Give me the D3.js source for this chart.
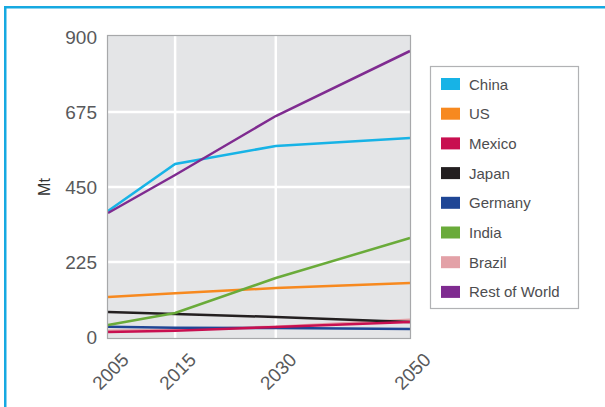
<!DOCTYPE html>
<html>
<head>
  <meta charset="UTF-8">
  <title>Mt by country</title>
  <script src="https://d3js.org/d3.v7.min.js"></script>
  <style>
    body {
      margin: 0;
      padding: 0;
      background: #fff;
      font-family: "Liberation Sans", Arial, sans-serif;
    }
    svg { display: block; }
  </style>
</head>
<body>

<script>
  const years = [2005, 2015, 2030, 2050];
  const yTicks = [0, 225, 450, 675, 900];

  const seriesNames = ["China", "US", "Mexico", "Japan", "Germany", "India", "Brazil", "Rest of World"];
  const seriesColors = ["#17b3e6", "#f7891f", "#c80f50", "#231f20", "#1f4695", "#6aab3a", "#e3a1a7", "#7f2b90"];

  const china = [378, 519, 573, 597];
  const us = [120, 131, 147, 162];
  const mexico = [15, 19, 30, 45];
  const japan = [75, 69, 60, 45];
  const germany = [31, 28, 27, 24];
  const india = [36, 72, 177, 297];
  const brazil = [19, 22, 31, 52];
  const restOfWorld = [372, 486, 663, 858];

  const seriesValues = [china, us, mexico, japan, germany, india, brazil, restOfWorld];
  // brazil underneath the others
  const drawOrder = [6, 0, 1, 3, 4, 5, 2, 7];

  const width = 605;
  const height = 407;
  const plot = { left: 108, right: 410, top: 37, bottom: 337 };

  const svg = d3.select("body")
    .append("svg")
    .attr("width", width)
    .attr("height", height);

  // frame lines (top and left)
  svg.append("rect").attr("x", 4).attr("y", 6).attr("width", width - 4).attr("height", 2.5).attr("fill", "#16a9e1");
  svg.append("rect").attr("x", 4).attr("y", 6).attr("width", 2.5).attr("height", height - 6).attr("fill", "#16a9e1");

  const x = d3.scaleLinear().domain([2005, 2050]).range([plot.left, plot.right]);
  const y = d3.scaleLinear().domain([0, 900]).range([plot.bottom, plot.top]);

  svg.append("rect")
    .attr("x", plot.left).attr("y", plot.top - 1)
    .attr("width", plot.right - plot.left).attr("height", plot.bottom - plot.top + 2)
    .attr("fill", "#e4e5e7");

  svg.selectAll(".vgrid")
    .data(years.slice(1, -1))
    .enter().append("line")
    .attr("x1", d => x(d)).attr("x2", d => x(d))
    .attr("y1", plot.top - 1).attr("y2", plot.bottom + 1)
    .attr("stroke", "#fff").attr("stroke-width", 2.5);

  svg.selectAll(".hgrid")
    .data(yTicks.slice(1, -1))
    .enter().append("line")
    .attr("x1", plot.left).attr("x2", plot.right)
    .attr("y1", d => y(d)).attr("y2", d => y(d))
    .attr("stroke", "#fff").attr("stroke-width", 2.5);

  const line = d3.line()
    .x((d, i) => x(years[i]))
    .y(d => y(d));

  svg.selectAll(".series")
    .data(drawOrder)
    .enter().append("path")
    .attr("d", i => line(seriesValues[i]))
    .attr("fill", "none")
    .attr("stroke", i => seriesColors[i])
    .attr("stroke-width", 2.5);

  svg.append("rect")
    .attr("x", plot.left - 0.5).attr("y", plot.top - 1.5)
    .attr("width", plot.right - plot.left + 1).attr("height", plot.bottom - plot.top + 3)
    .attr("fill", "none").attr("stroke", "#a7a8aa").attr("stroke-width", 1.2);

  // y tick labels
  svg.selectAll(".ytick")
    .data(yTicks)
    .enter().append("text")
    .attr("x", 97)
    .attr("y", d => y(d) + 7)
    .attr("text-anchor", "end")
    .attr("font-size", 19)
    .attr("fill", "#58595b")
    .text(d => d);

  // x tick labels
  svg.selectAll(".xtick")
    .data(years)
    .enter().append("text")
    .attr("transform", d => `translate(${x(d) + 12},${351}) rotate(-45)`)
    .attr("text-anchor", "end")
    .attr("dy", "0.75em")
    .attr("font-size", 19)
    .attr("fill", "#58595b")
    .text(d => d);

  svg.append("text")
    .attr("transform", "translate(50,187) rotate(-90)")
    .attr("text-anchor", "middle")
    .attr("font-size", 16)
    .attr("fill", "#333")
    .text("Mt");

  // legend
  const legend = svg.append("g");
  legend.append("rect")
    .attr("x", 430.5).attr("y", 66.5)
    .attr("width", 148).attr("height", 242)
    .attr("fill", "#fff").attr("stroke", "#b1b2b4").attr("stroke-width", 1.2);

  const items = legend.selectAll(".item")
    .data(seriesNames)
    .enter().append("g")
    .attr("transform", (d, i) => `translate(441,${78 + i * 29.7})`);

  items.append("rect")
    .attr("width", 19).attr("height", 12)
    .attr("fill", (d, i) => seriesColors[i]);

  items.append("text")
    .attr("x", 28).attr("y", 11.5)
    .attr("font-size", 15)
    .attr("fill", "#4d4d4f")
    .text(d => d);
</script>

</body>
</html>
